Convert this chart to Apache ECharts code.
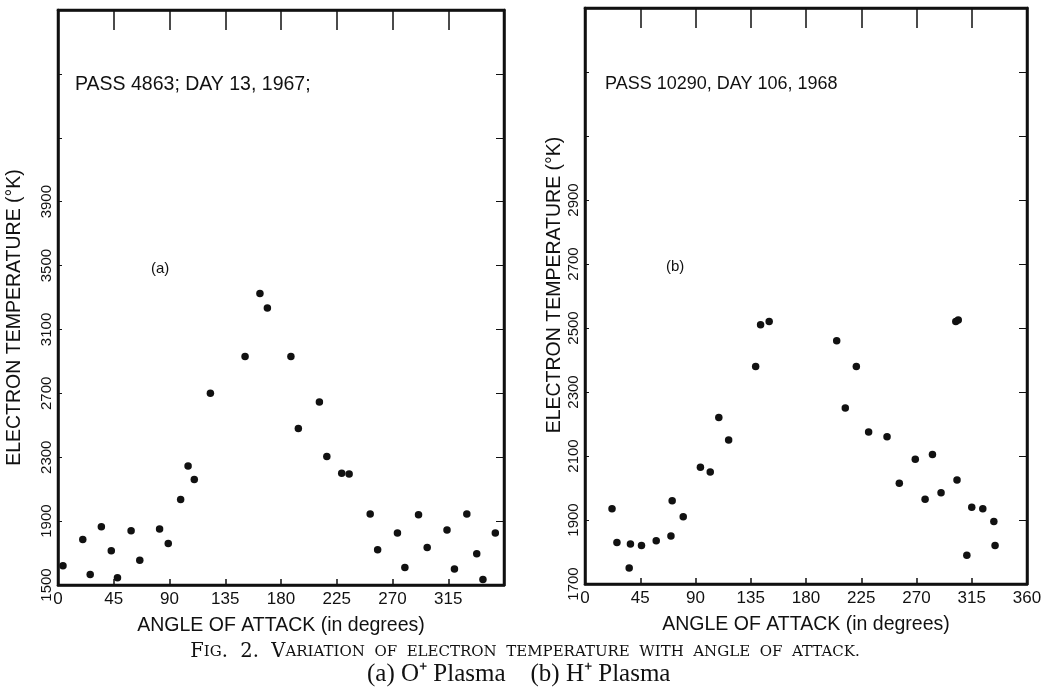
<!DOCTYPE html>
<html style="height: 100%">
<head>
    <meta charset="utf-8">
</head>
<body style="height: 100%; margin: 0; background: #fff">
<div id="container" style="width: 1050px; height: 692px"></div>
<script type="text/javascript" src="https://cdn.jsdelivr.net/npm/echarts@6/dist/echarts.min.js"></script>
<script type="text/javascript">
// (a) O+ plasma, pass 4863
var angleA = [4, 20, 26, 35, 43, 48, 59, 66, 82, 89, 99, 105, 110, 123, 151, 163, 169, 188, 194, 211,
    217, 229, 235, 252, 258, 274, 280, 291, 298, 314, 320, 330, 338, 343, 353];
var tempA = [1620, 1785, 1565, 1865, 1715, 1545, 1840, 1655, 1850, 1760, 2035, 2245, 2160, 2700, 2930, 3325, 3235, 2930, 2480, 2645,
    2305, 2200, 2195, 1945, 1720, 1825, 1610, 1940, 1735, 1845, 1600, 1945, 1695, 1535, 1825];
// (b) H+ plasma, pass 10290
var angleB = [22, 26, 37, 36, 46, 58, 70, 71, 80, 94, 102, 109, 117, 139, 143, 150, 205, 212, 221, 231,
    246, 256, 269, 277, 283, 290, 302, 304, 303, 311, 315, 324, 333, 334];
var tempB = [1935, 1830, 1825, 1750, 1820, 1835, 1850, 1960, 1910, 2065, 2050, 2220, 2150, 2380, 2510, 2520, 2460, 2250, 2380, 2175,
    2160, 2015, 2090, 1965, 2105, 1985, 2520, 2525, 2025, 1790, 1940, 1935, 1895, 1820];

var lastLabelA = 3900;
var lastLabelB = 2900;

function pairs(xs, ys) {
    return xs.map(function (x, i) { return [x, ys[i]]; });
}

var font = 'Liberation Sans, Arial, sans-serif';
var serif = 'DejaVu Serif, serif';
var ink = '#111';

function bottomAxis(idx, showLast) {
    return {
        type: 'value', gridIndex: idx, min: 0, max: 360, interval: 45,
        name: 'ANGLE OF ATTACK (in degrees)', nameLocation: 'middle', nameGap: 31,
        nameTextStyle: { fontFamily: font, fontSize: 19.5, color: ink },
        axisLine: { show: true, onZero: false, lineStyle: { color: ink, width: 2.5 } },
        axisTick: { show: true, inside: true, length: 6, lineStyle: { color: ink, width: 1.5 } },
        axisLabel: {
            fontFamily: font, fontSize: 17, color: ink, margin: 6,
            formatter: function (v) { return (v === 360 && !showLast) ? '' : v; }
        },
        splitLine: { show: false }
    };
}
function topAxis(idx) {
    return {
        type: 'value', gridIndex: idx, position: 'top', min: 0, max: 360, interval: 45,
        axisLine: { show: true, onZero: false, lineStyle: { color: ink, width: 2.5 } },
        axisTick: { show: true, inside: true, length: 20, lineStyle: { color: ink, width: 1.5 } },
        axisLabel: { show: false },
        splitLine: { show: false }
    };
}
function leftAxis(idx, min, max, step, last, gap, pad) {
    return {
        type: 'value', gridIndex: idx, position: 'left', min: min, max: max, interval: step,
        name: 'ELECTRON TEMPERATURE (°K)', nameLocation: 'middle', nameRotate: 90, nameGap: gap,
        nameTextStyle: { fontFamily: font, fontSize: 19.5, color: ink, padding: pad },
        axisLine: { show: true, onZero: false, lineStyle: { color: ink, width: 2.5 } },
        axisTick: { show: true, inside: true, length: 4, lineStyle: { color: ink, width: 1 } },
        axisLabel: {
            rotate: 90, fontFamily: font, fontSize: 15, color: ink, margin: 4,
            formatter: function (v) { return v <= last ? v : ''; }
        },
        splitLine: { show: false }
    };
}
function rightAxis(idx, min, max, step) {
    return {
        type: 'value', gridIndex: idx, position: 'right', offset: 0, min: min, max: max, interval: step,
        axisLine: { show: true, onZero: false, lineStyle: { color: ink, width: 2.5 } },
        axisTick: { show: true, inside: true, length: 8, lineStyle: { color: ink, width: 1 } },
        axisLabel: { show: false },
        splitLine: { show: false }
    };
}

var dom = document.getElementById('container');
var myChart = echarts.init(dom);
var option = {
    backgroundColor: '#fff',
    animation: false,
    grid: [
        { left: 58, right: 546, top: 10, bottom: 107, show: true, borderColor: ink, borderWidth: 2.5 },
        { left: 585, right: 23, top: 8, bottom: 108, show: true, borderColor: ink, borderWidth: 2.5 }
    ],
    xAxis: [bottomAxis(0, false), topAxis(0), bottomAxis(1, true), topAxis(1)],
    yAxis: [
        leftAxis(0, 1500, 5100, 400, lastLabelA, 33, [0, 40, 0, 0]),
        rightAxis(0, 1500, 5100, 400),
        leftAxis(1, 1700, 3500, 200, lastLabelB, 18, [0, 0, 0, 22]),
        rightAxis(1, 1700, 3500, 200)
    ],
    series: [
        { type: 'scatter', xAxisIndex: 0, yAxisIndex: 0, symbolSize: 7.5, itemStyle: { color: ink, opacity: 1 }, data: pairs(angleA, tempA) },
        { type: 'scatter', xAxisIndex: 2, yAxisIndex: 2, symbolSize: 7.5, itemStyle: { color: ink, opacity: 1 }, data: pairs(angleB, tempB) }
    ],
    graphic: [
        { type: 'text', left: 75, top: 75, style: { text: 'PASS 4863; DAY 13, 1967;', font: '19.5px ' + font, fill: ink } },
        { type: 'text', left: 151, top: 261, style: { text: '(a)', font: '15px ' + font, fill: ink } },
        { type: 'text', left: 605, top: 75, style: { text: 'PASS 10290, DAY 106, 1968', font: '18px ' + font, fill: ink } },
        { type: 'text', left: 666, top: 259, style: { text: '(b)', font: '15px ' + font, fill: ink } },
        {
            type: 'text', left: 'center', top: 642,
            style: {
                text: '{b|F}{s|IG}{b|.  2.  V}{s|ARIATION  OF  ELECTRON  TEMPERATURE  WITH  ANGLE  OF  ATTACK.}',
                rich: {
                    b: { fontFamily: serif, fontSize: 19.5, fill: ink },
                    s: { fontFamily: serif, fontSize: 15, fill: ink }
                }
            }
        },
        { type: 'text', left: 367, top: 662, style: { text: '(a) O\u207A Plasma    (b) H\u207A Plasma', font: '25px Liberation Serif, serif', fill: ink } }
    ]
};
myChart.setOption(option, true);
</script>
</body>
</html>
